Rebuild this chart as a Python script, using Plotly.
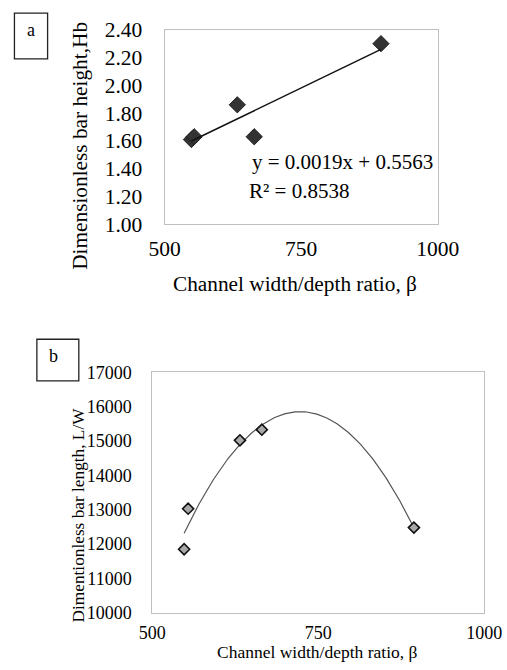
import numpy as np
import plotly.graph_objects as go

# ---- data ----
beta_a = [549, 554, 633, 664, 896]
hb = [1.61, 1.63, 1.86, 1.63, 2.30]
lin_slope = 0.0019
lin_intercept = 0.5563

beta_b = [548, 554, 632, 665, 894]
lw = [11850, 13030, 15020, 15330, 12480]

xticks = [500, 750, 1000]
yticks_a = [1.00, 1.20, 1.40, 1.60, 1.80, 2.00, 2.20, 2.40]
yticks_b = [10000, 11000, 12000, 13000, 14000, 15000, 16000, 17000]

# figure size and mapping from target picture pixels to paper fractions
FW, FH = 518, 673
SX, SY, OFF = 0.95, 0.973, 8
def px(x):
    return (x / SX - OFF) / FW
def py(y):
    return 1 - (y / SY - OFF) / FH

SERIF = "Liberation Serif, Times New Roman, serif"

fig = go.Figure()

xa = np.array([min(beta_a), max(beta_a)])
fig.add_trace(go.Scatter(x=beta_a, y=hb, mode="markers", xaxis="x", yaxis="y",
                         marker=dict(symbol="diamond", size=12.5, color="#333333",
                                     line=dict(color="#222222", width=1)),
                         showlegend=False))
fig.add_trace(go.Scatter(x=xa, y=lin_slope * xa + lin_intercept, mode="lines",
                         xaxis="x", yaxis="y", line=dict(color="#111111", width=1.5),
                         showlegend=False))

coef = np.polyfit(beta_b, lw, 2)
xb = np.linspace(min(beta_b), max(beta_b), 200)
fig.add_trace(go.Scatter(x=xb, y=np.polyval(coef, xb), mode="lines",
                         xaxis="x2", yaxis="y2", line=dict(color="#555555", width=1.2),
                         showlegend=False))
fig.add_trace(go.Scatter(x=beta_b, y=lw, mode="markers", xaxis="x2", yaxis="y2",
                         marker=dict(symbol="diamond", size=8.5, color="#a8a8a8",
                                     line=dict(color="#111111", width=1.6)),
                         showlegend=False))

axline = dict(showline=True, mirror=True, linecolor="#bfbfbf", linewidth=1,
              showgrid=False, zeroline=False, ticks="")

fig.update_layout(
    width=FW, height=FH, margin=dict(l=0, r=0, t=0, b=0),
    paper_bgcolor="white", plot_bgcolor="white",
    xaxis=dict(domain=[px(160), px(440)], range=[500, 1000], tickvals=xticks,
               anchor="y", tickfont=dict(family=SERIF, size=21.5, color="black"),
               ticklabelstandoff=5, **axline),
    yaxis=dict(domain=[py(223), py(26.7)], range=[1.0, 2.4], tickvals=yticks_a,
               tickformat=".2f", anchor="x",
               tickfont=dict(family=SERIF, size=21.5, color="black"),
               ticklabelstandoff=17, **axline),
    xaxis2=dict(domain=[px(147.3), px(487.7)], range=[500, 1000], tickvals=xticks,
                anchor="y2", tickfont=dict(family=SERIF, size=18, color="black"),
                ticklabelstandoff=4, **axline),
    yaxis2=dict(domain=[py(615), py(372.3)], range=[10000, 17000], tickvals=yticks_b,
                tickformat="d", anchor="x2",
                tickfont=dict(family=SERIF, size=18, color="black"),
                ticklabelstandoff=16, **axline),
)

ann = []
def add_text(text, x, y, size, xanchor="center", yanchor="middle", angle=0):
    ann.append(dict(text=text, x=px(x), y=py(y), xref="paper", yref="paper",
                    xanchor=xanchor, yanchor=yanchor, showarrow=False, textangle=angle,
                    borderpad=0, font=dict(family=SERIF, size=size, color="black")))

add_text("Dimensionless bar height,Hb", 73, 144, 21.3, angle=-90)
add_text("Channel width/depth ratio, &#946;", 294, 283, 21.3)
add_text("y = 0.0019x + 0.5563", 436, 160, 21, xanchor="right")
add_text("R² = 0.8538", 245, 189, 21, xanchor="left")
add_text("a", 23, 27, 18)

add_text("Dimentionless bar length, L/W", 72, 516, 17.3, angle=-90)
add_text("Channel width/depth ratio, &#946;", 316, 655, 17.5)
add_text("b", 46, 356, 18)

fig.update_layout(annotations=ann)

fig.add_shape(type="rect", xref="paper", yref="paper",
              x0=px(6), x1=px(40), y0=py(56), y1=py(10),
              line=dict(color="#222222", width=1.3))
fig.add_shape(type="rect", xref="paper", yref="paper",
              x0=px(29), x1=px(72), y0=py(381), y1=py(339),
              line=dict(color="#222222", width=1.3))

fig.write_html("out.html")
